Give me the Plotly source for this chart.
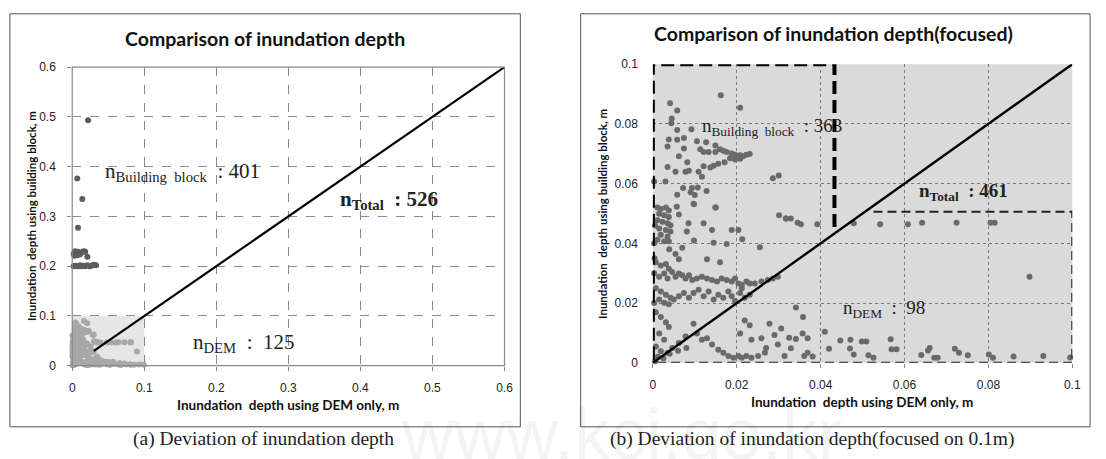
import plotly.graph_objects as go

# ---------------- data ----------------
# points with both depths below 0.1 m (shown in panel b, light gray in panel a)
upper_x = [0.0162, 0.0208, 0.0041, 0.0058, 0.0045, 0.0044, 0.0058, 0.0092, 0.0038, 0.0058,
           0.0074, 0.0035, 0.0074, 0.0105, 0.0127, 0.0149, 0.0113, 0.0121, 0.0133, 0.0149,
           0.0160, 0.0168, 0.0176, 0.0188, 0.0196, 0.0208, 0.0215, 0.0223, 0.0231, 0.0184,
           0.0196, 0.0208, 0.0062, 0.0082, 0.0171, 0.0156, 0.0145, 0.0137, 0.0121, 0.0035,
           0.0054, 0.0078, 0.0086, 0.0109, 0.0117, 0.0286, 0.0300, 0.0003, 0.0030, 0.0072,
           0.0093, 0.0107, 0.0058, 0.0090, 0.0100, 0.0097, 0.0150, 0.0128, 0.0301, 0.0317,
           0.0329]
upper_y = [0.0896, 0.0854, 0.0869, 0.0845, 0.0818, 0.0802, 0.0780, 0.0782, 0.0748, 0.0747,
           0.0753, 0.0724, 0.0718, 0.0742, 0.0739, 0.0728, 0.0715, 0.0706, 0.0706, 0.0706,
           0.0715, 0.0710, 0.0706, 0.0701, 0.0697, 0.0695, 0.0692, 0.0697, 0.0699, 0.0685,
           0.0681, 0.0683, 0.0692, 0.0672, 0.0672, 0.0667, 0.0660, 0.0654, 0.0658, 0.0656,
           0.0640, 0.0640, 0.0643, 0.0640, 0.0623, 0.0618, 0.0627, 0.0607, 0.0607, 0.0585,
           0.0585, 0.0587, 0.0563, 0.0571, 0.0562, 0.0533, 0.0520, 0.0575, 0.0494, 0.0483,
           0.0483]

middle_x = [0.0011, 0.0019, 0.0031, 0.0038, 0.0015, 0.0027, 0.0038, 0.0011, 0.0023, 0.0035,
            0.0042, 0.0015, 0.0031, 0.0042, 0.0019, 0.0035, 0.0011, 0.0027, 0.0038, 0.0057,
            0.0062, 0.0098, 0.0149, 0.0081, 0.0085, 0.0121, 0.0141, 0.0098, 0.0145, 0.0176,
            0.0188, 0.0204, 0.0213, 0.0255, 0.0129, 0.0160, 0.0070, 0.0039, 0.0054, 0.0062,
            0.0003, 0.0003, 0.0004, 0.0003, 0.0005,
            0.0007, 0.0019, 0.0031, 0.0038, 0.0046, 0.0027, 0.0015, 0.0035, 0.0054, 0.0062,
            0.0070, 0.0078, 0.0086, 0.0094, 0.0105, 0.0117, 0.0129, 0.0141, 0.0153, 0.0164,
            0.0176, 0.0188, 0.0196, 0.0204, 0.0212, 0.0223, 0.0231, 0.0243, 0.0259, 0.0274,
            0.0286, 0.0298,
            0.0007, 0.0019, 0.0031, 0.0042, 0.0015, 0.0027, 0.0038, 0.0050, 0.0062, 0.0074,
            0.0086, 0.0097, 0.0109, 0.0121, 0.0133, 0.0145, 0.0156, 0.0168, 0.0180, 0.0188,
            0.0196, 0.0208, 0.0212, 0.0219, 0.0231]
middle_y = [0.0520, 0.0515, 0.0520, 0.0510, 0.0499, 0.0494, 0.0488, 0.0477, 0.0472, 0.0467,
            0.0461, 0.0450, 0.0445, 0.0440, 0.0429, 0.0423, 0.0412, 0.0407, 0.0407, 0.0523,
            0.0497, 0.0531, 0.0520, 0.0440, 0.0467, 0.0467, 0.0445, 0.0410, 0.0402, 0.0398,
            0.0445, 0.0445, 0.0414, 0.0387, 0.0347, 0.0337, 0.0385, 0.0380, 0.0364, 0.0347,
            0.0200, 0.0300, 0.0350, 0.0400, 0.0460,
            0.0337, 0.0326, 0.0331, 0.0315, 0.0304, 0.0299, 0.0288, 0.0282, 0.0288, 0.0299,
            0.0293, 0.0282, 0.0293, 0.0277, 0.0282, 0.0288, 0.0282, 0.0277, 0.0272, 0.0282,
            0.0277, 0.0272, 0.0282, 0.0266, 0.0261, 0.0272, 0.0266, 0.0266, 0.0272, 0.0277,
            0.0282, 0.0288,
            0.0250, 0.0239, 0.0228, 0.0218, 0.0212, 0.0201, 0.0196, 0.0212, 0.0223, 0.0234,
            0.0218, 0.0234, 0.0245, 0.0223, 0.0239, 0.0212, 0.0228, 0.0218, 0.0239, 0.0223,
            0.0207, 0.0234, 0.0250, 0.0218, 0.0228]

lower_x = [0.0007, 0.0019, 0.0031, 0.0038, 0.0015, 0.0027, 0.0007, 0.0019, 0.0035, 0.0046,
           0.0062, 0.0078, 0.0097, 0.0105, 0.0117, 0.0129, 0.0141, 0.0156, 0.0168, 0.0180,
           0.0192, 0.0204, 0.0212, 0.0223, 0.0235, 0.0251, 0.0267, 0.0278, 0.0290, 0.0306,
           0.0219, 0.0231, 0.0208, 0.0235, 0.0259, 0.0270, 0.0298, 0.0314,
           0.0005, 0.0012, 0.0025, 0.0040, 0.0060, 0.0080,
           0.0318, 0.0345, 0.0353, 0.0392, 0.0479, 0.0542, 0.0608, 0.0642, 0.0724, 0.0805,
           0.0815, 0.0898, 0.0341, 0.0358, 0.0357, 0.0325, 0.0341, 0.0369, 0.0329, 0.0361,
           0.0369, 0.0381, 0.0410, 0.0420, 0.0447, 0.0471, 0.0470, 0.0479, 0.0498, 0.0509,
           0.0514, 0.0526, 0.0567, 0.0569, 0.0581, 0.0640, 0.0656, 0.0660, 0.0671, 0.0679,
           0.0720, 0.0730, 0.0751, 0.0801, 0.0811, 0.0860, 0.0931, 0.0995]
lower_y = [0.0169, 0.0153, 0.0136, 0.0120, 0.0098, 0.0077, 0.0055, 0.0039, 0.0034, 0.0050,
           0.0066, 0.0088, 0.0131, 0.0098, 0.0077, 0.0082, 0.0061, 0.0044, 0.0034, 0.0023,
           0.0017, 0.0023, 0.0017, 0.0023, 0.0017, 0.0023, 0.0034, 0.0131, 0.0093, 0.0115,
           0.0142, 0.0126, 0.0098, 0.0077, 0.0082, 0.0050, 0.0061, 0.0023,
           0.0005, 0.0020, 0.0015, 0.0030, 0.0040, 0.0050,
           0.0483, 0.0469, 0.0464, 0.0464, 0.0467, 0.0464, 0.0464, 0.0469, 0.0469, 0.0469,
           0.0469, 0.0288, 0.0185, 0.0153, 0.0098, 0.0084, 0.0080, 0.0082, 0.0049, 0.0023,
           0.0034, 0.0021, 0.0104, 0.0047, 0.0075, 0.0077, 0.0048, 0.0028, 0.0071, 0.0071,
           0.0025, 0.0017, 0.0079, 0.0045, 0.0045, 0.0026, 0.0041, 0.0050, 0.0017, 0.0017,
           0.0047, 0.0034, 0.0025, 0.0028, 0.0017, 0.0021, 0.0023, 0.0018]

# points above 0.1 m visible only in panel a
high_x = [0.022, 0.007, 0.014, 0.008,
          0.002, 0.004, 0.006, 0.008, 0.011, 0.013, 0.016, 0.018, 0.003, 0.007, 0.021,
          0.002, 0.004, 0.006, 0.009, 0.011, 0.013, 0.016, 0.018, 0.021, 0.024, 0.027,
          0.030, 0.033]
high_y = [0.493, 0.376, 0.335, 0.277,
          0.225, 0.230, 0.226, 0.229, 0.224, 0.228, 0.230, 0.229, 0.221, 0.222, 0.219,
          0.200, 0.201, 0.200, 0.200, 0.202, 0.200, 0.201, 0.200, 0.202, 0.200, 0.201,
          0.203, 0.202]

diag_left = [0.03, 0.6]
diag_right = [0.0, 0.1]

ticks_left = [0, 0.1, 0.2, 0.3, 0.4, 0.5, 0.6]
ticks_left_text = ["0", "0.1", "0.2", "0.3", "0.4", "0.5", "0.6"]
ticks_right = [0, 0.02, 0.04, 0.06, 0.08, 0.1]
ticks_right_text = ["0", "0.02", "0.04", "0.06", "0.08", "0.1"]

# region boundaries in panel b
bb_right_edge = 0.0433
bb_right_bottom = 0.0455
dem_top = 0.0506
dem_left = 0.0526

# ---------------- figure ----------------
W, H = 1106, 459
def px(x):
    return x / W
def py(y):
    return 1 - y / H

focus_x = upper_x + middle_x + lower_x
focus_y = upper_y + middle_y + lower_y

fig = go.Figure()

# panel a
fig.add_trace(go.Scatter(x=focus_x, y=focus_y, mode="markers", xaxis="x", yaxis="y",
                         marker=dict(size=6, color="#a8a8a8"), cliponaxis=False, showlegend=False))
fig.add_trace(go.Scatter(x=high_x, y=high_y, mode="markers", xaxis="x", yaxis="y",
                         marker=dict(size=6, color="#5c5c5c"), cliponaxis=False, showlegend=False))
fig.add_trace(go.Scatter(x=diag_left, y=diag_left, mode="lines", xaxis="x", yaxis="y",
                         line=dict(color="black", width=2.2), showlegend=False))
# panel b
fig.add_trace(go.Scatter(x=focus_x, y=focus_y, mode="markers", xaxis="x2", yaxis="y2",
                         marker=dict(size=6, color="#6a6a6a"), cliponaxis=False, showlegend=False))
fig.add_trace(go.Scatter(x=diag_right, y=diag_right, mode="lines", xaxis="x2", yaxis="y2",
                         line=dict(color="black", width=2.4), showlegend=False))

tickfont = dict(family="Liberation Sans", size=12, color="#222")
fig.update_layout(
    width=W, height=H, margin=dict(l=0, r=0, t=0, b=0),
    paper_bgcolor="white", plot_bgcolor="rgba(0,0,0,0)",
    xaxis=dict(domain=[px(70), px(507)], range=[0, 0.6], tickvals=ticks_left, ticktext=ticks_left_text,
               showgrid=True, gridcolor="#8a8a8a", griddash="dash", gridwidth=1, zeroline=False,
               ticks="outside", ticklen=4, tickcolor="#888", tickfont=tickfont, ticklabelstandoff=7,
               anchor="y"),
    yaxis=dict(domain=[py(370), py(62)], range=[0, 0.6], tickvals=ticks_left, ticktext=ticks_left_text,
               showgrid=True, gridcolor="#8a8a8a", griddash="dash", gridwidth=1, zeroline=False,
               ticks="outside", ticklen=4, tickcolor="#888", tickfont=tickfont, ticklabelstandoff=9,
               anchor="x"),
    xaxis2=dict(domain=[px(657), px(1081)], range=[0, 0.1], tickvals=ticks_right, ticktext=ticks_right_text,
                showgrid=True, gridcolor="#7a7a7a", griddash="3px,3px", gridwidth=1, zeroline=False,
                ticks="outside", ticklen=4, tickcolor="#888", tickfont=tickfont, ticklabelstandoff=7,
                anchor="y2"),
    yaxis2=dict(domain=[py(367), py(59)], range=[0, 0.1], tickvals=ticks_right, ticktext=ticks_right_text,
                showgrid=True, gridcolor="#7a7a7a", griddash="3px,3px", gridwidth=1, zeroline=False,
                ticks="", tickfont=tickfont, ticklabelstandoff=14, anchor="x2"),
)

shapes = [
    # outer frames
    dict(type="rect", xref="paper", yref="paper", x0=px(7), x1=px(523), y0=py(433), y1=py(7),
         line=dict(color="#555", width=1), layer="below"),
    dict(type="rect", xref="paper", yref="paper", x0=px(584), x1=px(1099), y0=py(433), y1=py(7),
         line=dict(color="#555", width=1), layer="below"),
    # panel a: light square of the focused region
    dict(type="rect", xref="x", yref="y", x0=0, x1=0.1, y0=0, y1=0.1,
         fillcolor="#e6e6e6", line=dict(width=0), layer="below"),
    # panel a: plot border
    dict(type="rect", xref="x domain", yref="y domain", x0=0, x1=1, y0=0, y1=1,
         line=dict(color="#8a8a8a", width=1.2), layer="above"),
    # panel b: gray background
    dict(type="rect", xref="x2 domain", yref="y2 domain", x0=0, x1=1, y0=0, y1=1,
         fillcolor="#dadada", line=dict(width=0), layer="below"),
    # panel b: building-block region (thick dashed)
    dict(type="path", xref="x2", yref="y2",
         path=f"M {bb_right_edge},{bb_right_bottom} L {bb_right_edge},0.1 L 0,0.1 L 0,0",
         line=dict(color="black", width=4, dash="13px,6px"), layer="above"),
    # panel b: DEM region (thin dashed)
    dict(type="path", xref="x2", yref="y2",
         path=f"M {dem_left},{dem_top} L 0.1,{dem_top} L 0.1,0 L 0,0",
         line=dict(color="#222", width=2, dash="9px,5px"), layer="above"),
]
fig.update_layout(shapes=shapes)

title_font = dict(family="Lato", size=19.5, color="#111")
axis_font = dict(family="Lato", size=13.5, color="#111")
yaxis_font = dict(family="Lato", size=11.5, color="#111")
serif = "Liberation Serif"
ann = []
def add(text, x, y, font, xanchor="center", yanchor="middle", textangle=0):
    ann.append(dict(text=text, x=px(x), y=py(y), xref="paper", yref="paper", showarrow=False,
                    font=font, xanchor=xanchor, yanchor=yanchor, textangle=textangle))

# faint watermark of the source
add("www.kci.go.kr", 625, 440, dict(family="Liberation Sans", size=72, color="rgba(0,0,0,0.045)"))

add("<b>Comparison of inundation depth</b>", 265, 32, title_font)
add("<b>Comparison of inundation depth(focused)</b>", 840, 27, title_font)
add("<b>Inundation  depth using DEM only, m</b>", 288, 411, axis_font)
add("<b>Inundation  depth using DEM only, m</b>", 868, 407, axis_font)
add("<b>Inundation  depth using building block, m</b>", 29, 216, yaxis_font, textangle=-90)
add("<b>Inundation  depth using building block, m</b>", 606, 213, yaxis_font, textangle=-90)

big = dict(family=serif, size=21, color="#222")
add("n<sub>Building&nbsp;&nbsp;block</sub>&nbsp;&nbsp;:&nbsp;401", 101, 170, big, xanchor="left")
add("<b>n<sub>Total</sub>&nbsp;&nbsp;:&nbsp;526</b>", 339, 199, big, xanchor="left")
add("n<sub>DEM</sub>&nbsp;&nbsp;:&nbsp;&nbsp;125", 190, 347, big, xanchor="left")
mid = dict(family=serif, size=19, color="#222")
add("n<sub>Building&nbsp;&nbsp;block</sub>&nbsp;&nbsp;:&nbsp;363", 705, 124, mid, xanchor="left")
add("<b>n<sub>Total</sub>&nbsp;&nbsp;:&nbsp;461</b>", 924, 191, mid, xanchor="left")
add("n<sub>DEM</sub>&nbsp;&nbsp;:&nbsp;&nbsp;98", 847, 311, mid, xanchor="left")

cap = dict(family=serif, size=19.5, color="#222")
add("(a) Deviation of inundation depth", 263, 446, cap)
add("(b) Deviation of inundation depth(focused on 0.1m)", 818, 446, cap)

fig.update_layout(annotations=ann)
fig.write_html("out.html", config={"displayModeBar": False},
               post_script="document.body.style.margin='0';document.body.style.overflow='hidden';")
